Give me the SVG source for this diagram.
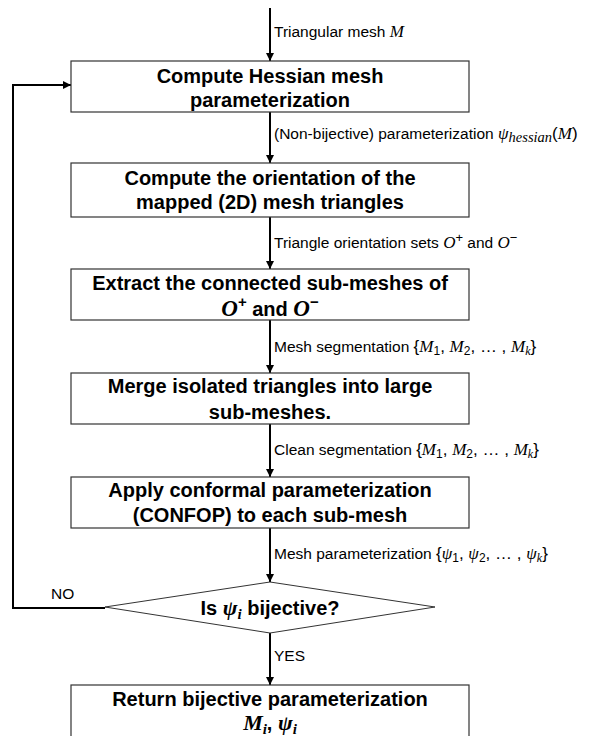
<svg xmlns="http://www.w3.org/2000/svg" width="610" height="736" viewBox="0 0 610 736">
<style>
.box{fill:#fff;stroke:#333;stroke-width:1.2}
.t{font-family:"Liberation Sans",Arial,sans-serif;font-weight:bold;font-size:20px;fill:#000;text-anchor:middle}
.m{font-family:"Liberation Serif","Times New Roman",serif;font-style:italic}
.l{font-family:"Liberation Sans",Arial,sans-serif;font-size:15.5px;fill:#000}
.lm{font-family:"Liberation Serif","Times New Roman",serif;font-style:italic;font-size:17px}
.c{fill:none;stroke:#000;stroke-width:2}
</style>
<defs>
<marker id="ah" viewBox="0 0 10 10" refX="10" refY="5" markerWidth="4" markerHeight="4" orient="auto" markerUnits="strokeWidth">
<path d="M0,0 L10,5 L0,10 z" fill="#000"/>
</marker>
</defs>
<rect width="610" height="736" fill="#fff"/>
<g id="connectors">
<line class="c" x1="270" y1="8" x2="270" y2="61" marker-end="url(#ah)"/>
<line class="c" x1="270" y1="112" x2="270" y2="163" marker-end="url(#ah)"/>
<line class="c" x1="270" y1="217" x2="270" y2="269" marker-end="url(#ah)"/>
<line class="c" x1="270" y1="320" x2="270" y2="373" marker-end="url(#ah)"/>
<line class="c" x1="270" y1="424" x2="270" y2="477" marker-end="url(#ah)"/>
<line class="c" x1="270" y1="528" x2="270" y2="582" marker-end="url(#ah)"/>
<line class="c" x1="270" y1="633" x2="270" y2="685" marker-end="url(#ah)"/>
<polyline class="c" points="105,608 13,608 13,85 71,85" marker-end="url(#ah)"/>
<text class="l" x="274" y="37">Triangular mesh <tspan class="lm">M</tspan></text>
<text class="l" x="274" y="139">(Non-bijective) parameterization <tspan class="lm" font-size="18">ψ</tspan><tspan class="m" font-size="14.5" dy="3">hessian</tspan><tspan font-size="17" dy="-3">(</tspan><tspan class="lm">M</tspan><tspan font-size="17">)</tspan></text>
<text class="l" x="274" y="248">Triangle orientation sets <tspan class="lm" font-size="19">O</tspan><tspan font-size="13" dy="-6">+</tspan><tspan dy="6"> and </tspan><tspan class="lm" font-size="19">O</tspan><tspan font-size="13" dy="-6">−</tspan></text>
<text class="l" x="274" y="352">Mesh segmentation <tspan font-size="17">{</tspan><tspan class="lm">M</tspan><tspan font-size="12" dy="3">1</tspan><tspan font-size="17" dy="-3">, </tspan><tspan class="lm">M</tspan><tspan font-size="12" dy="3">2</tspan><tspan font-size="17" dy="-3">, … , </tspan><tspan class="lm">M</tspan><tspan class="m" font-size="12" dy="3">k</tspan><tspan font-size="17" dy="-3">}</tspan></text>
<text class="l" x="274" y="455">Clean segmentation <tspan font-size="17">{</tspan><tspan class="lm">M</tspan><tspan font-size="12" dy="3">1</tspan><tspan font-size="17" dy="-3">, </tspan><tspan class="lm">M</tspan><tspan font-size="12" dy="3">2</tspan><tspan font-size="17" dy="-3">, … , </tspan><tspan class="lm">M</tspan><tspan class="m" font-size="12" dy="3">k</tspan><tspan font-size="17" dy="-3">}</tspan></text>
<text class="l" x="274" y="559">Mesh parameterization <tspan font-size="17">{</tspan><tspan class="lm" font-size="18">ψ</tspan><tspan font-size="12" dy="3">1</tspan><tspan font-size="17" dy="-3">, </tspan><tspan class="lm" font-size="18">ψ</tspan><tspan font-size="12" dy="3">2</tspan><tspan font-size="17" dy="-3">, … , </tspan><tspan class="lm" font-size="18">ψ</tspan><tspan class="m" font-size="12" dy="3">k</tspan><tspan font-size="17" dy="-3">}</tspan></text>
<text class="l" x="274" y="661">YES</text>
<text class="l" x="51" y="599">NO</text>
</g>
<g id="n1">
<rect class="box" x="71" y="61" width="398" height="51"/>
<text class="t" x="270" y="83">Compute Hessian mesh</text>
<text class="t" x="270" y="107">parameterization</text>
</g>
<g id="n2">
<rect class="box" x="71" y="163" width="398" height="54"/>
<text class="t" x="270" y="185">Compute the orientation of the</text>
<text class="t" x="270" y="209">mapped (2D) mesh triangles</text>
</g>
<g id="n3">
<rect class="box" x="71" y="269" width="398" height="51"/>
<text class="t" x="270" y="290">Extract the connected sub-meshes of</text>
<text class="t" x="270" y="316"><tspan class="m" font-size="23">O</tspan><tspan font-size="15" dy="-9">+</tspan><tspan dy="9"> and </tspan><tspan class="m" font-size="23">O</tspan><tspan font-size="15" dy="-9">−</tspan></text>
</g>
<g id="n4">
<rect class="box" x="71" y="373" width="398" height="51"/>
<text class="t" x="270" y="393">Merge isolated triangles into large</text>
<text class="t" x="270" y="419">sub-meshes.</text>
</g>
<g id="n5">
<rect class="box" x="71" y="477" width="398" height="51"/>
<text class="t" x="270" y="497">Apply conformal parameterization</text>
<text class="t" x="270" y="522">(CONFOP) to each sub-mesh</text>
</g>
<g id="n6">
<polygon points="270,582 435,607 270,633 105,607" fill="#fff" stroke="#333" stroke-width="1"/>
<text class="t" x="270" y="615">Is <tspan class="m" font-size="22">ψ</tspan><tspan class="m" font-size="15" dy="4">i</tspan><tspan dy="-4"> bijective?</tspan></text>
</g>
<g id="n7">
<rect class="box" x="71" y="685" width="398" height="53"/>
<text class="t" x="270" y="706">Return bijective parameterization</text>
<text class="t" x="270" y="730"><tspan class="m" font-size="22">M</tspan><tspan class="m" font-size="15" dy="4">i</tspan><tspan dy="-4">, </tspan><tspan class="m" font-size="22">ψ</tspan><tspan class="m" font-size="15" dy="4">i</tspan></text>
</g>
</svg>
